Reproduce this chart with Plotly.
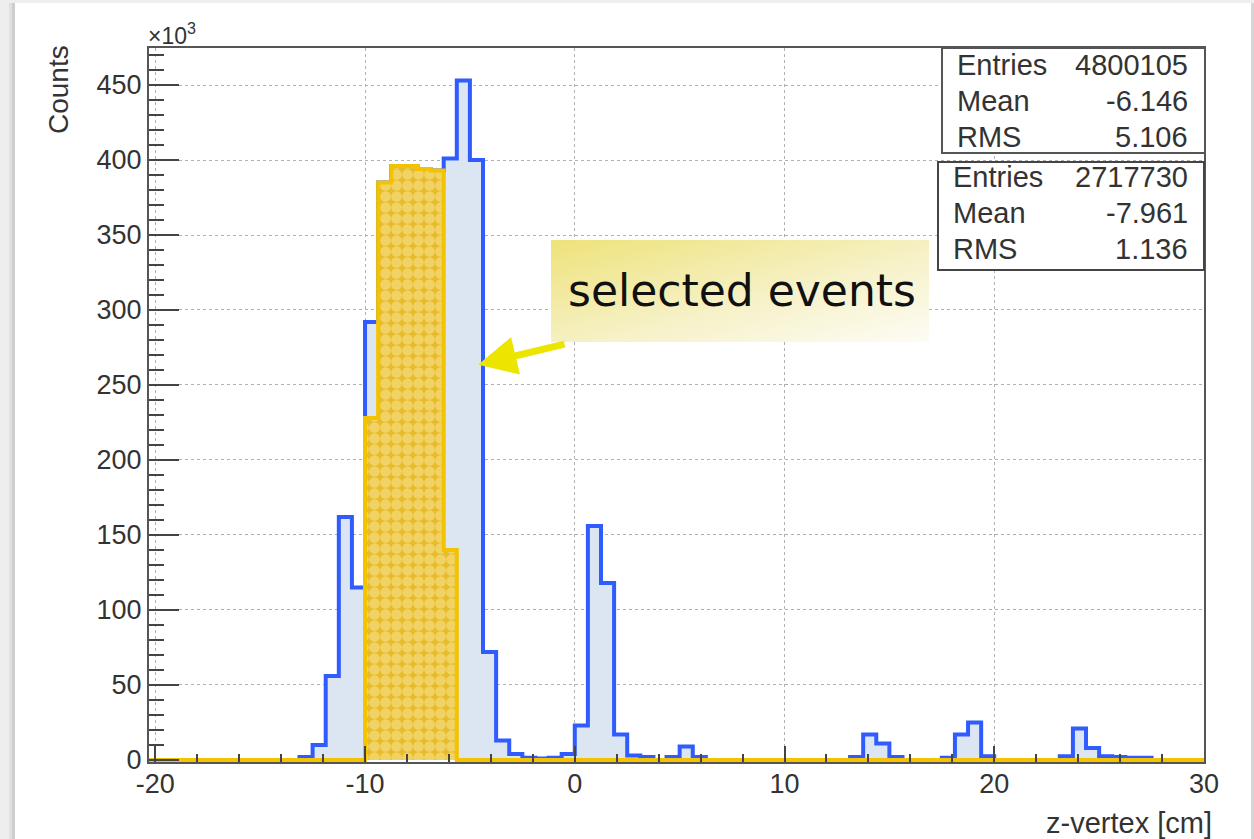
import base64
import numpy as np
import plotly.graph_objects as go

# ---------------- data (counts in units of 10^3) ----------------
z_edges = np.round(np.linspace(-20.625, 30, 82), 4)  # 81 bins of 0.625 cm

all_counts = [
    0,
    0, 0, 0, 0, 0, 0, 0, 0, 0, 0,
    0, 2, 10, 56, 162, 115, 292, 385, 396, 396,
    394, 393, 401, 453, 400, 72, 13, 4, 1.5, 1,
    1.5, 4, 23, 156, 118, 17, 3, 2, 0, 2,
    9, 2, 0, 0, 0, 0, 0, 0, 0, 0,
    0, 0, 0, 2, 17, 11, 2, 0, 0, 0,
    1.5, 17, 25, 2.5, 0, 0, 0, 0, 0, 2.5,
    21, 8, 2.5, 2, 1.5, 1.5, 0, 0, 0, 0,
]

selected_counts = [
    0,
    0, 0, 0, 0, 0, 0, 0, 0, 0, 0,
    0, 0, 0, 0, 0, 0, 228, 385, 396, 396,
    394, 393, 140, 0, 0, 0, 0, 0, 0, 0,
    0, 0, 0, 0, 0, 0, 0, 0, 0, 0,
    0, 0, 0, 0, 0, 0, 0, 0, 0, 0,
    0, 0, 0, 0, 0, 0, 0, 0, 0, 0,
    0, 0, 0, 0, 0, 0, 0, 0, 0, 0,
    0, 0, 0, 0, 0, 0, 0, 0, 0, 0,
]

y_ticks = [0, 50, 100, 150, 200, 250, 300, 350, 400, 450]
x_ticks = [-20, -10, 0, 10, 20, 30]

stats_all = [("Entries", "4800105"), ("Mean", "-6.146"), ("RMS", "5.106")]
stats_sel = [("Entries", "2717730"), ("Mean", "-7.961"), ("RMS", "1.136")]

# ---------------- geometry helpers (pixels -> paper) ----------------
L, R, T, B = 149, 50, 48, 77
W, H = 1254, 839
PW, PH = W - L - R, H - T - B


def px(p):
    return (p - L) / PW


def py(q):
    return (H - B - q) / PH


FONT = "Liberation Sans, Arial, sans-serif"
TXT = "#333333"

fig = go.Figure()

# all events
fig.add_trace(go.Scatter(
    x=list(z_edges), y=all_counts + [all_counts[-1]],
    mode="lines", line=dict(shape="hv", color="#2f5bff", width=4),
    fill="tozeroy", fillcolor="#dce6f2", hoverinfo="skip",
))
# selected events
fig.add_trace(go.Scatter(
    x=list(z_edges), y=selected_counts + [selected_counts[-1]],
    mode="lines", line=dict(shape="hv", color="#f4c300", width=4),
    fill="tozeroy",
    fillpattern=dict(shape=".", bgcolor="#e8bb2a", fgcolor="#f9e9a0",
                     size=11, solidity=0.72),
    hoverinfo="skip",
))

axis_common = dict(
    showline=True, linecolor="#555555", linewidth=2, mirror=True,
    showgrid=True, gridcolor="#b0b0b0", griddash="dot", gridwidth=1,
    zeroline=False, ticks="inside", tickcolor="#444444", tickwidth=1.5,
    tickfont=dict(family=FONT, size=27, color=TXT),
)

fig.update_xaxes(
    range=[-20.3, 30], tickvals=x_ticks, ticktext=[str(v) for v in x_ticks],
    ticklen=16, ticklabelstandoff=-3,
    minor=dict(ticks="inside", dtick=2, ticklen=8, tickcolor="#444444",
               tickwidth=1.5, showgrid=False),
    **axis_common,
)
fig.update_yaxes(
    range=[-1.4, 474.7], tickvals=y_ticks, ticktext=[str(v) for v in y_ticks],
    ticklen=30, ticklabelstandoff=0,
    minor=dict(ticks="inside", dtick=10, ticklen=15, tickcolor="#444444",
               tickwidth=1.5, showgrid=False),
    **axis_common,
)

shapes = [
    # card + shadow
    dict(type="rect", xref="paper", yref="paper", x0=px(15), x1=px(1251),
         y0=py(845), y1=py(3), fillcolor="white", line=dict(width=0), layer="below"),
    dict(type="rect", xref="paper", yref="paper", x0=px(9), x1=px(12),
         y0=py(845), y1=py(3), fillcolor="#e0e0e0", line=dict(width=0), layer="below"),
    dict(type="rect", xref="paper", yref="paper", x0=px(12), x1=px(15),
         y0=py(845), y1=py(3), fillcolor="#cdcdcd", line=dict(width=0), layer="below"),
    dict(type="rect", xref="paper", yref="paper", x0=px(1251), x1=px(1254),
         y0=py(845), y1=py(3), fillcolor="#d6d6d6", line=dict(width=0), layer="below"),
    # stats boxes
    dict(type="rect", xref="paper", yref="paper", x0=px(942), x1=px(1205),
         y0=py(153), y1=py(48), fillcolor="white", line=dict(color="#555555", width=2)),
    dict(type="rect", xref="paper", yref="paper", x0=px(938), x1=px(1204),
         y0=py(270), y1=py(162), fillcolor="white", line=dict(color="#444444", width=2)),
]

annotations = []
for rows, top, lx in ((stats_all, 65, 955), (stats_sel, 177, 951)):
    for i, (lab, val) in enumerate(rows):
        yc = top + i * 35.8
        annotations.append(dict(xref="paper", yref="paper", x=px(lx), y=py(yc),
                                text=lab, showarrow=False, xanchor="left", yanchor="middle",
                                font=dict(family=FONT, size=29, color=TXT)))
        annotations.append(dict(xref="paper", yref="paper", x=px(1190), y=py(yc),
                                text=val, showarrow=False, xanchor="right", yanchor="middle",
                                font=dict(family=FONT, size=29, color=TXT)))

annotations += [
    dict(xref="paper", yref="paper", x=px(58), y=py(90), text="Counts", textangle=-90,
         showarrow=False, xanchor="center", yanchor="middle",
         font=dict(family=FONT, size=28, color=TXT)),
    dict(xref="paper", yref="paper", x=px(146), y=py(34), text="×10<sup>3</sup>",
         showarrow=False, xanchor="left", yanchor="middle",
         font=dict(family=FONT, size=23, color=TXT)),
    dict(xref="paper", yref="paper", x=px(1214), y=py(823), text="z-vertex [cm]",
         showarrow=False, xanchor="right", yanchor="middle",
         font=dict(family=FONT, size=29, color=TXT)),
    # arrow
    dict(xref="x", yref="y", x=-4.61, y=263.5, text="", showarrow=True,
         ax=88, ay=-21, axref="pixel", ayref="pixel",
         arrowhead=2, arrowsize=1.1, arrowwidth=7, arrowcolor="#ebe500", standoff=0),
    # label
    dict(xref="paper", yref="paper", x=px(742), y=py(290), text="selected events",
         showarrow=False, xanchor="center", yanchor="middle",
         font=dict(family="DejaVu Sans", size=44, color="#111111")),
]

svg = ('<svg xmlns="http://www.w3.org/2000/svg" width="378" height="102" '
       'preserveAspectRatio="none"><defs><linearGradient id="g" x1="0" y1="0" x2="1" y2="1">'
       '<stop offset="0" stop-color="#eee27a"/><stop offset="0.55" stop-color="#f6f1c6"/>'
       '<stop offset="1" stop-color="#fdfcf5"/></linearGradient></defs>'
       '<rect width="378" height="102" fill="url(#g)"/></svg>')
src = "data:image/svg+xml;base64," + base64.b64encode(svg.encode()).decode()

fig.update_layout(
    width=W, height=H, margin=dict(l=L, r=R, t=T, b=B),
    paper_bgcolor="#eeeeee", plot_bgcolor="white", showlegend=False,
    font=dict(family=FONT, color=TXT),
    shapes=shapes, annotations=annotations,
    images=[dict(source=src, xref="paper", yref="paper", x=px(551), y=py(240),
                 sizex=378 / PW, sizey=102 / PH, sizing="stretch",
                 xanchor="left", yanchor="top", layer="above")],
)

fig.write_html("out.html")
